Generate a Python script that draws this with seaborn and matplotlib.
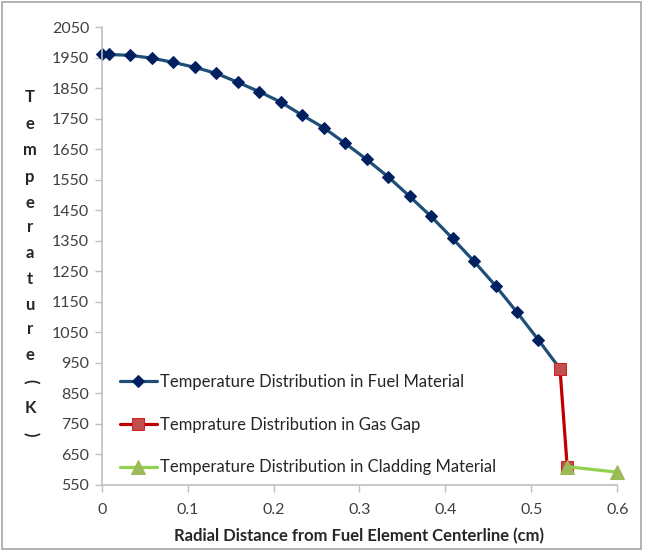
import numpy as np
import pandas as pd
import matplotlib
matplotlib.use("Agg")
import matplotlib.pyplot as plt
import seaborn as sns
from matplotlib.patches import Rectangle

# radial distance (cm) and temperature (K)
fuel_r = [0, 0.0083, 0.0333, 0.0583, 0.0833, 0.1083, 0.1333, 0.1583, 0.1833, 0.2083,
          0.2333, 0.2583, 0.2833, 0.3083, 0.3333, 0.3583, 0.3833, 0.4083, 0.4333,
          0.4583, 0.4833, 0.5083, 0.5333]
fuel_T = [1961, 1961, 1958, 1949, 1935, 1919, 1899, 1870, 1839, 1805,
          1762, 1721, 1670, 1617, 1560, 1496, 1430, 1358, 1283,
          1203, 1116, 1025, 931]
gap_r = [0.5333, 0.5417]
gap_T = [931, 610]
clad_r = [0.5417, 0.6]
clad_T = [610, 592]

labels = ["Temperature Distribution in Fuel Material",
          "Temprature Distribution in Gas Gap",
          "Temperature Distribution in Cladding Material"]

sns.set_style("white")
plt.rcParams['font.family'] = ['Lato', 'DejaVu Sans']

fig = plt.figure(figsize=(6.45, 5.52), dpi=100)
ax = fig.add_axes([101.7/645, 1-485/552, (617.3-101.7)/645, (485-27.3)/552])

fuel = pd.DataFrame({"r": fuel_r, "T": fuel_T})
gap = pd.DataFrame({"r": gap_r, "T": gap_T})
clad = pd.DataFrame({"r": clad_r, "T": clad_T})

sns.lineplot(data=fuel, x="r", y="T", ax=ax, color="#1F4E79", lw=2.3,
             marker="D", markersize=6, markerfacecolor="#002060",
             markeredgecolor="#002060", label=labels[0], sort=False, clip_on=False)
sns.lineplot(data=gap, x="r", y="T", ax=ax, color="#C00000", lw=2.3,
             marker="s", markersize=9, markerfacecolor="#C0504D",
             markeredgecolor="#D02020", label=labels[1], sort=False, clip_on=False)
sns.lineplot(data=clad, x="r", y="T", ax=ax, color="#92D050", lw=2.3,
             marker="^", markersize=10, markerfacecolor="#9BBB59",
             markeredgecolor="#9BBB59", label=labels[2], sort=False, clip_on=False)

ax.set_xlim(0, 0.6)
ax.set_ylim(550, 2050)
ax.set_yticks(np.arange(550, 2051, 100))
ax.set_xticks(np.arange(0, 0.61, 0.1))
ax.set_xticklabels(["0", "0.1", "0.2", "0.3", "0.4", "0.5", "0.6"])

for s in ["top", "right"]:
    ax.spines[s].set_visible(False)
for s in ["left", "bottom"]:
    ax.spines[s].set_color("#BFBFBF")
    ax.spines[s].set_linewidth(1.2)
ax.tick_params(axis="both", which="both", direction="out", length=5, width=1,
               color="#BFBFBF", labelsize=11.5, labelcolor="#404040", pad=4)
ax.tick_params(axis="y", left=True)
ax.tick_params(axis="x", bottom=True, pad=8)

ax.set_xlabel("Radial Distance from Fuel Element Centerline (cm)",
              fontsize=12, fontweight="bold", color="#262626", labelpad=8)
ax.set_ylabel("")

# stacked vertical axis title
letters = list("Temperature")
ys = [97, 124, 150, 177, 203, 227, 253, 279, 305, 329, 355]
for ch, y in zip(letters, ys):
    fig.text(30/645, 1-y/552, ch, ha="center", va="center", fontsize=12,
             fontweight="bold", color="#262626")
fig.text(30/645, 1-381/552, "(", ha="center", va="center", fontsize=12,
         fontweight="bold", color="#262626", rotation=-90)
fig.text(30/645, 1-408/552, "K", ha="center", va="center", fontsize=12,
         fontweight="bold", color="#262626")
fig.text(30/645, 1-434/552, ")", ha="center", va="center", fontsize=12,
         fontweight="bold", color="#262626", rotation=-90)

leg = ax.legend(loc="upper left", bbox_to_anchor=(120/645, 1-374/552),
                bbox_transform=fig.transFigure, frameon=False, fontsize=12,
                handlelength=2.2, handletextpad=0.2, labelspacing=1.6,
                borderaxespad=0, borderpad=0)
for t in leg.get_texts():
    t.set_color("#262626")

# outer chart border
fig.patches.append(Rectangle((2/645, 1-549/552), 639/645, 547/552,
                             transform=fig.transFigure, fill=False,
                             edgecolor="#A6A6A6", lw=1.2))

plt.savefig("out.png", dpi=100)
